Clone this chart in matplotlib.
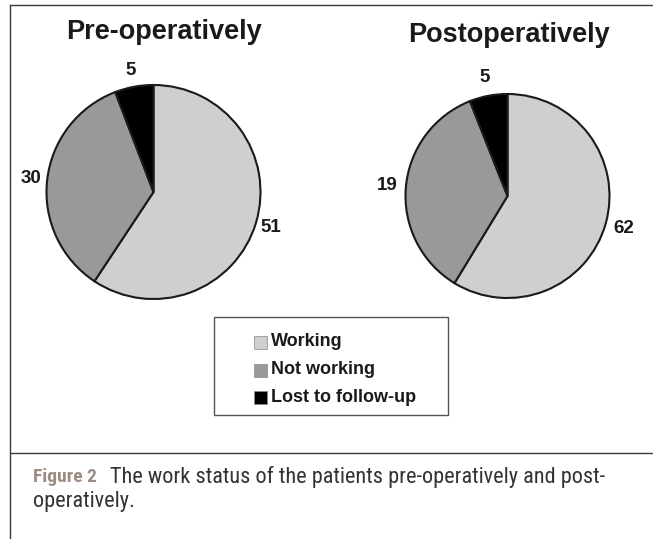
import matplotlib
matplotlib.use("Agg")
import matplotlib.pyplot as plt
from matplotlib.lines import Line2D
from matplotlib.patches import Rectangle
from matplotlib import font_manager as fm

W, H = 653, 539
DPI = 100

categories = ["Working", "Not working", "Lost to follow-up"]
pre_values = [51, 30, 5]
pre_labels = ["51", "30", "5"]
# slice shares as drawn in the reference (percent)
post_shares = [58.7, 35.3, 6.0]
post_labels = ["62", "19", "5"]
colors = ["#cfcfcf", "#999999", "#000000"]
titles = ["Pre-operatively", "Postoperatively"]
caption_head = "Figure 2"
caption_line1 = "The work status of the patients pre-operatively and post-"
caption_line2 = "operatively."


def find_condensed():
    cands = [("Liberation Sans Narrow", "normal"), ("Roboto Condensed", "normal"),
             ("DejaVu Sans", "condensed"), ("Open Sans Condensed", "normal"),
             ("Noto Sans", "condensed")]
    for fam, st in cands:
        try:
            p = fm.findfont(fm.FontProperties(family=fam, stretch=st), fallback_to_default=False)
            low = p.lower()
            if "narrow" in low or "condensed" in low:
                return fam, st, True
        except Exception:
            pass
    return "Liberation Sans", "normal", False


cap_fam, cap_stretch, cond = find_condensed()
cap_size = 16 if cond else 12.2
head_size = 14 if cond else 11.5

fig = plt.figure(figsize=(W / DPI, H / DPI), dpi=DPI)
fig.patch.set_facecolor("white")


def px_axes(cx, cy, r):
    return fig.add_axes([(cx - r) / W, 1 - (cy + r) / H, 2 * r / W, 2 * r / H])


def draw_pie(ax, vals, labs, ldist):
    wedges, texts = ax.pie(vals, labels=labs, colors=colors, startangle=90,
                           counterclock=False, labeldistance=ldist,
                           wedgeprops=dict(edgecolor="#1a1a1a", linewidth=1.5),
                           textprops=dict(fontsize=13.5, fontweight="bold",
                                          family="Liberation Sans", color="#1a1a1a"))
    for t in texts:
        t.set_ha("center")
        t.set_va("center")
    ax.set_xlim(-1, 1)
    ax.set_ylim(-1, 1)
    ax.set_aspect("equal")
    ax.axis("off")


ax1 = px_axes(153.5, 192, 107)
draw_pie(ax1, pre_values, pre_labels, 1.15)
ax2 = px_axes(507.5, 196, 102)
draw_pie(ax2, post_shares, post_labels, 1.18)

fig.text(164 / W, 1 - 32 / H, titles[0], ha="center", va="center",
         fontsize=19.5, fontweight="bold", family="Liberation Sans", color="#1a1a1a")
fig.text(509 / W, 1 - 35 / H, titles[1], ha="center", va="center",
         fontsize=19.5, fontweight="bold", family="Liberation Sans", color="#1a1a1a")

# legend box
fig.patches.append(Rectangle((214 / W, 1 - 415 / H), (448 - 214) / W, (415 - 317) / H,
                             transform=fig.transFigure, facecolor="white",
                             edgecolor="#555555", linewidth=1.0))
rows = [342, 370, 397]
for cat, col, y in zip(categories, colors, rows):
    fig.patches.append(Rectangle((254 / W, 1 - (y + 6.5) / H), 13 / W, 13 / H,
                                 transform=fig.transFigure, facecolor=col,
                                 edgecolor="#888888", linewidth=0.5))
    fig.text(271 / W, 1 - y / H, cat, ha="left", va="center", fontsize=13,
             fontweight="bold", family="Liberation Sans", color="#1a1a1a")

# frame lines
lc = "#3a3a3a"
fig.lines.append(Line2D([10 / W, 1], [1 - 5 / H, 1 - 5 / H], transform=fig.transFigure, color=lc, lw=1.0))
fig.lines.append(Line2D([10 / W, 10 / W], [1 - 5 / H, 0], transform=fig.transFigure, color=lc, lw=1.0))
fig.lines.append(Line2D([10 / W, 1], [1 - 453 / H, 1 - 453 / H], transform=fig.transFigure, color=lc, lw=1.0))

fig.text(33 / W, 1 - 477 / H, caption_head, ha="left", va="center", fontsize=head_size,
         family=cap_fam, stretch=cap_stretch, fontweight="semibold", color="#9c8c84")
fig.text(110 / W, 1 - 477 / H, caption_line1, ha="left", va="center", fontsize=cap_size,
         family=cap_fam, stretch=cap_stretch, color="#333333")
fig.text(33 / W, 1 - 501 / H, caption_line2, ha="left", va="center", fontsize=cap_size,
         family=cap_fam, stretch=cap_stretch, color="#333333")

fig.savefig("out.png", dpi=DPI)
